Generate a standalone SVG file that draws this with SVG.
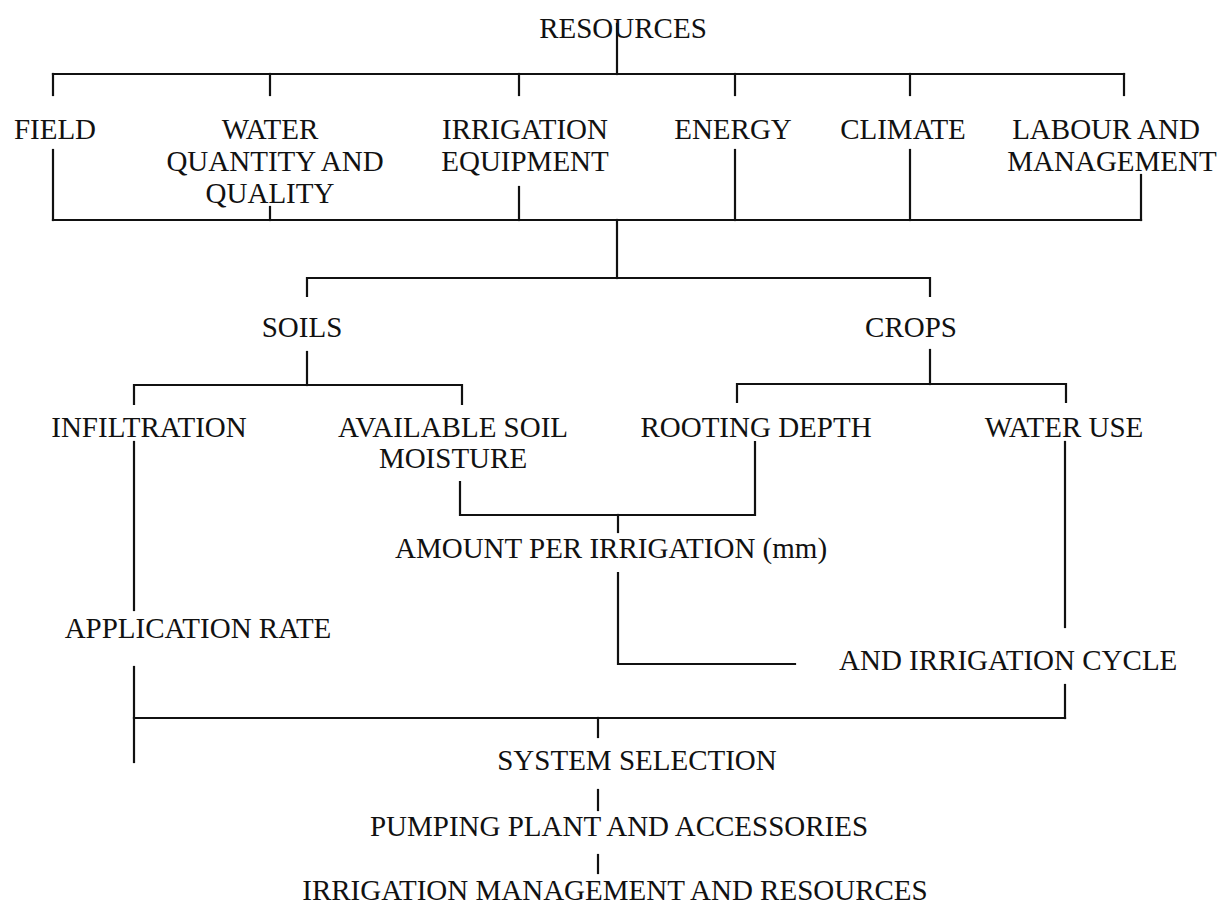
<svg xmlns="http://www.w3.org/2000/svg" width="1224" height="908" viewBox="0 0 1224 908">
<style>
text{font-family:"Liberation Serif","Times New Roman",serif;font-size:29px;fill:#111;}
.c{text-anchor:middle;}
#connectors line,#connectors polyline{stroke:#111;stroke-width:2.2;fill:none;stroke-linecap:square;}
</style>
<rect width="1224" height="908" fill="#fff"/>
<g id="connectors">
<line x1="617" y1="24" x2="617" y2="74"/>
<line x1="53" y1="74" x2="1124" y2="74"/>
<line x1="53" y1="74" x2="53" y2="95"/>
<line x1="270" y1="74" x2="270" y2="95"/>
<line x1="519" y1="74" x2="519" y2="95"/>
<line x1="735" y1="74" x2="735" y2="95"/>
<line x1="910" y1="74" x2="910" y2="95"/>
<line x1="1124" y1="74" x2="1124" y2="95"/>
<line x1="53" y1="150" x2="53" y2="220"/>
<line x1="270" y1="207" x2="270" y2="220"/>
<line x1="519" y1="187" x2="519" y2="220"/>
<line x1="735" y1="150" x2="735" y2="220"/>
<line x1="910" y1="150" x2="910" y2="220"/>
<line x1="1141" y1="175" x2="1141" y2="220"/>
<line x1="53" y1="220" x2="1141" y2="220"/>
<line x1="617" y1="220" x2="617" y2="278"/>
<polyline points="307,296 307,278 930,278 930,296"/>
<line x1="307" y1="352" x2="307" y2="385"/>
<polyline points="134,404 134,385 462,385 462,404"/>
<line x1="930" y1="350" x2="930" y2="384"/>
<polyline points="737,402 737,384 1066,384 1066,402"/>
<line x1="134" y1="442" x2="134" y2="610"/>
<line x1="134" y1="667" x2="134" y2="762"/>
<polyline points="460,482 460,515 755,515 755,442"/>
<line x1="618" y1="515" x2="618" y2="532"/>
<polyline points="618,573 618,664 795,664"/>
<line x1="1065" y1="442" x2="1065" y2="627"/>
<line x1="1065" y1="685" x2="1065" y2="718"/>
<line x1="134" y1="718" x2="1065" y2="718"/>
<line x1="598" y1="718" x2="598" y2="737"/>
<line x1="598" y1="790" x2="598" y2="810"/>
<line x1="598" y1="855" x2="598" y2="873"/>
</g>
<g id="resources"><text class="c" x="623" y="38">RESOURCES</text></g>
<g id="field"><text class="c" x="55" y="139">FIELD</text></g>
<g id="water"><text class="c" x="270" y="139">WATER</text><text class="c" x="275" y="171">QUANTITY AND</text><text class="c" x="270" y="203">QUALITY</text></g>
<g id="equipment"><text class="c" x="525" y="139">IRRIGATION</text><text class="c" x="525" y="171">EQUIPMENT</text></g>
<g id="energy"><text class="c" x="733" y="139">ENERGY</text></g>
<g id="climate"><text class="c" x="903" y="139">CLIMATE</text></g>
<g id="labour"><text class="c" x="1106" y="139">LABOUR AND</text><text class="c" x="1112" y="171">MANAGEMENT</text></g>
<g id="soils"><text class="c" x="302" y="337">SOILS</text></g>
<g id="crops"><text class="c" x="911" y="337">CROPS</text></g>
<g id="infiltration"><text class="c" x="149" y="437">INFILTRATION</text></g>
<g id="moisture"><text class="c" x="453" y="437">AVAILABLE SOIL</text><text class="c" x="453" y="468">MOISTURE</text></g>
<g id="rooting"><text class="c" x="756" y="437">ROOTING DEPTH</text></g>
<g id="wateruse"><text class="c" x="1064" y="437">WATER USE</text></g>
<g id="amount"><text x="395" y="558">AMOUNT PER IRRIGATION (mm)</text></g>
<g id="application"><text class="c" x="198" y="638">APPLICATION RATE</text></g>
<g id="cycle"><text x="839" y="670">AND IRRIGATION CYCLE</text></g>
<g id="system"><text class="c" x="637" y="770">SYSTEM SELECTION</text></g>
<g id="pumping"><text class="c" x="619" y="836">PUMPING PLANT AND ACCESSORIES</text></g>
<g id="management"><text class="c" x="615" y="900">IRRIGATION MANAGEMENT AND RESOURCES</text></g>
</svg>
